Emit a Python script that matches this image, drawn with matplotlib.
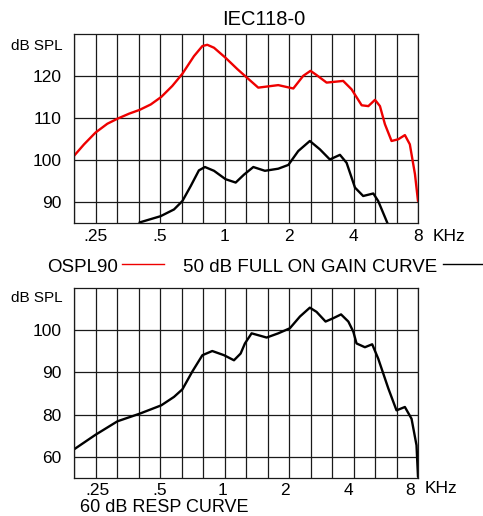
import matplotlib
matplotlib.use("Agg")
import matplotlib.pyplot as plt
from matplotlib.lines import Line2D
from matplotlib.transforms import ScaledTranslation

plt.rcParams['font.family'] = ['Liberation Sans', 'DejaVu Sans']

# ---------------- data ----------------
title = "IEC118-0"
x_tick_vals = [0.25, 0.5, 1, 2, 4, 8]
x_tick_labels = [".25", ".5", "1", "2", "4", "8"]
x_min, x_max = 0.1984, 8.0

top_y_ticks = [90, 100, 110, 120]
top_y_labels = ["90", "100", "110", "120"]
bot_y_ticks = [70, 80, 90, 100]
bot_y_labels = ["60", "80", "90", "100"]

# OSPL90 (red)
ospl_f = [0.198, 0.221, 0.25, 0.2838, 0.3164, 0.3585, 0.4013, 0.4528, 0.507, 0.5705,
          0.6358, 0.7202, 0.7884, 0.8312, 0.8932, 1.0116, 1.1487, 1.2455, 1.437, 1.7818,
          2.0947, 2.3295, 2.5198, 2.6888, 2.996, 3.58, 3.918, 4.367, 4.692, 5.04,
          5.315, 5.606, 6.021, 6.468, 6.949, 7.328, 7.743, 8.0]
ospl_db = [101.0, 103.8, 106.6, 108.7, 109.9, 111.1, 112.0, 113.3, 115.1, 117.7,
           120.6, 124.8, 127.2, 127.5, 126.8, 124.4, 121.7, 120.1, 117.3, 117.9,
           117.1, 120.1, 121.3, 120.3, 118.5, 118.9, 116.9, 113.1, 112.9, 114.4,
           112.9, 108.6, 104.6, 105.0, 106.0, 103.8, 96.7, 90.3]

# 50 dB full on gain curve (black, top)
gain_f = [0.4013, 0.5035, 0.5812, 0.636, 0.696, 0.7594, 0.8106, 0.8932, 1.0116, 1.1276,
          1.2337, 1.363, 1.544, 1.7818, 1.986, 2.2085, 2.5018, 2.789, 3.1018, 3.458,
          3.714, 4.064, 4.438, 4.949, 5.216, 5.776]
gain_db = [85.2, 86.7, 88.3, 90.3, 93.9, 97.6, 98.4, 97.5, 95.5, 94.7,
           96.6, 98.4, 97.5, 98.0, 98.9, 102.2, 104.6, 102.6, 100.2, 101.3,
           99.4, 93.5, 91.5, 92.1, 90.3, 84.9]

# 60 dB response curve (black, bottom)
resp_f = [0.198, 0.25, 0.3164, 0.4013, 0.507, 0.5812, 0.636, 0.7071, 0.7884, 0.8767,
          0.9954, 1.107, 1.1892, 1.2455, 1.3379, 1.5725, 1.7818, 2.018, 2.25, 2.5018,
          2.6888, 2.9625, 3.22, 3.499, 3.784, 3.992, 4.132, 4.522, 4.89, 5.216,
          5.816, 6.35, 6.949, 7.464, 7.873, 8.0]
resp_db = [71.7, 75.2, 78.4, 80.2, 82.2, 84.2, 86.0, 90.2, 94.1, 95.1,
           94.1, 92.9, 94.5, 96.9, 99.3, 98.3, 99.3, 100.5, 103.3, 105.4,
           104.4, 102.1, 102.9, 103.8, 102.1, 99.7, 96.9, 96.0, 96.7, 93.3,
           86.2, 81.0, 81.8, 79.0, 72.7, 65.2]

legend_ospl = "OSPL90"
legend_gain = "50 dB FULL ON GAIN CURVE"
bottom_label = "60 dB RESP CURVE"
y_unit = "dB SPL"
x_unit = "KHz"

# third-octave grid positions
grid_f = [8.0 * 2 ** (-k / 3) for k in range(17)]

# ---------------- figure ----------------
W, H = 483, 516
fig = plt.figure(figsize=(W / 100, H / 100), dpi=100)

def fx(px):
    return px / W

def fy(py):
    return 1 - py / H

ax1 = fig.add_axes([fx(74), fy(223.3), fx(418) - fx(74), fy(34.3) - fy(223.3)])
ax2 = fig.add_axes([fx(74), fy(477.7), fx(418) - fx(74), fy(288.3) - fy(477.7)])

def style(ax, yticks, ylabels, ylim):
    ax.set_xscale('log', base=2)
    ax.set_xlim(x_min, x_max)
    ax.set_ylim(*ylim)
    ax.set_xticks(x_tick_vals)
    ax.set_xticklabels(x_tick_labels, fontsize=12.5)
    ax.set_xticks(grid_f, minor=True)
    ax.set_xticklabels([], minor=True)
    ax.set_yticks(yticks)
    ax.set_yticklabels(ylabels, fontsize=12.5)
    ax.tick_params(which='both', length=0)
    ax.tick_params(axis='x', pad=4)
    ax.tick_params(axis='y', pad=9)
    ax.grid(which='both', axis='x', color='#1a1a1a', lw=0.9)
    ax.grid(which='major', axis='y', color='#1a1a1a', lw=0.9)
    for s in ax.spines.values():
        s.set_color('#1a1a1a')
        s.set_linewidth(0.9)
    ax.set_axisbelow(True)

style(ax1, top_y_ticks, top_y_labels, (85, 130))
style(ax2, bot_y_ticks, bot_y_labels, (65, 110))

# bottom chart's tick labels sit slightly left of their grid lines in the reference
bot_shift_px = [1.5, 0, -2, -4, -5, -8]
for lbl, dx in zip(ax2.get_xticklabels(), bot_shift_px):
    lbl.set_transform(lbl.get_transform() + ScaledTranslation(dx / 100, 0, fig.dpi_scale_trans))

kw = dict(lw=1.7, solid_joinstyle='round', solid_capstyle='round')
ax1.plot(ospl_f, ospl_db, color='#ee0000', **kw)
ax1.plot(gain_f, gain_db, color='black', **kw)
ax2.plot(resp_f, resp_db, color='black', **kw)

# texts
fig.text(fx(264), fy(25), title, fontsize=14.5, ha='center', va='baseline')
fig.text(fx(63), fy(50), y_unit, fontsize=11, ha='right', va='baseline')
fig.text(fx(63), fy(301.7), y_unit, fontsize=11, ha='right', va='baseline')
fig.text(fx(433), fy(241), x_unit, fontsize=12.5, ha='left', va='baseline')
fig.text(fx(425), fy(493.3), x_unit, fontsize=12.5, ha='left', va='baseline')

fig.text(fx(47), fy(271.5), legend_ospl, fontsize=13.5, ha='left', va='baseline')
fig.add_artist(Line2D([fx(122), fx(164)], [fy(264), fy(264)], color='#ee0000', lw=1.0))
fig.text(fx(183), fy(271.5), legend_gain, fontsize=13.5, ha='left', va='baseline')
fig.add_artist(Line2D([fx(443), fx(482)], [fy(264), fy(264)], color='black', lw=1.0))

fig.text(fx(80), fy(511.7), bottom_label, fontsize=13, ha='left', va='baseline')

fig.savefig("out.png", dpi=100)
